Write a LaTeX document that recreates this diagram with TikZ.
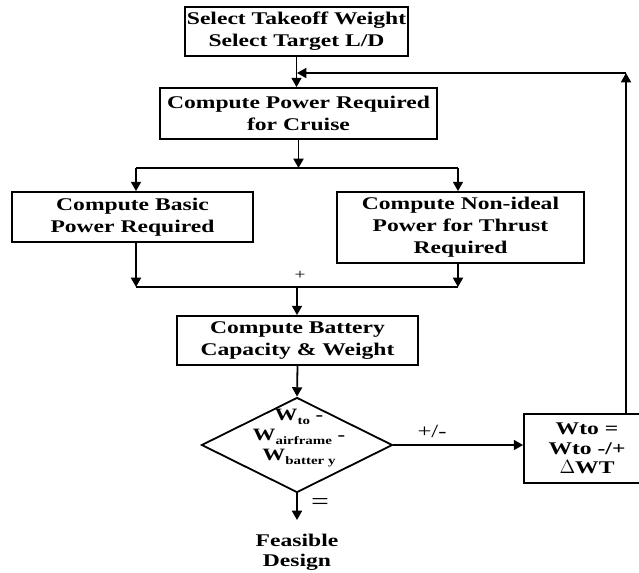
\documentclass[tikz,border=0pt]{standalone}
\usepackage{fontspec}
\setmainfont{Liberation Serif}[FakeStretch=1.32]
\usetikzlibrary{arrows.meta,shapes.geometric}
% lowered subscript used inside the decision diamond
\newcommand\lowsub[1]{\raisebox{-0.6ex}{\fontsize{8.5}{8.5}\selectfont #1}}

\begin{document}
\begin{tikzpicture}[x=0.75pt,y=-0.75pt,
  every node/.style={font=\fontsize{13.4}{16.5}\selectfont\bfseries, align=center, inner sep=0pt},
  box/.style={draw, line width=1.35pt},
  flow/.style={line width=1.35pt, -{Triangle[length=7pt,width=7.5pt]}},
  plain/.style={line width=1.35pt},
  sign/.style={font=\fontsize{#1}{#1}\selectfont}]
\clip (0,0) rectangle (639,572);

% process boxes
\node[box, minimum width=167.25pt, minimum height=36.75pt] (top) at (296.5,31.5)
  {Select Takeoff Weight\\Select Target L/D};
\node[box, minimum width=207.75pt, minimum height=38.25pt] (cruise) at (298.5,113.5)
  {Compute Power Required\\for Cruise};
\node[box, minimum width=180.75pt, minimum height=37.5pt] (basic) at (132.5,217)
  {Compute Basic\\Power Required};
\node[box, minimum width=185.25pt, minimum height=53.25pt] (nonideal) at (460.5,227.5)
  {Compute Non-ideal\\Power for Thrust\\Required};
\node[box, minimum width=180.75pt, minimum height=36.75pt] (battery) at (297.5,340.5)
  {Compute Battery\\Capacity \& Weight};

% decision diamond and its text
\node[draw, diamond, line width=1.35pt, aspect=2, minimum width=143.25pt, minimum height=71.25pt] (dec) at (297,445) {};
\node[font=\fontsize{13}{15}\selectfont\bfseries] (dectext) at (299,438)
  {W\lowsub{to} -\\W\lowsub{airframe} -\\W\lowsub{batter y}};

% weight update box
\node[box, minimum width=94.5pt, minimum height=51.75pt, font=\fontsize{13.4}{14.6}\selectfont\bfseries] (wto) at (587,448.5)
  {Wto =\\Wto -/+\\$\Delta$WT};

% result
\node (feasible) at (297,552) {Feasible\\[-1.5pt]Design};

% junction points
\coordinate (fbc) at (626,73);
\coordinate (fbj) at (297,73);
\coordinate (sp) at (298,168);
\coordinate (spl) at (136,168);
\coordinate (spr) at (458,168);
\coordinate (mgl) at (136,287);
\coordinate (mgr) at (458,287);
\coordinate (mg) at (297,287);
\coordinate (out) at (297,520);

% connectors
\draw[flow] (top.south) -- (top.south |- cruise.north);
\draw[flow] (wto.north -| fbc) -- (fbc);
\draw[flow] (fbc) -- (fbj);
\draw[flow] (cruise.south) -- (cruise.south |- sp);
\draw[plain] (spl) -- (spr);
\draw[flow] (spl) -- (spl |- basic.north);
\draw[flow] (spr) -- (spr |- nonideal.north);
\draw[flow] (basic.south -| mgl) -- (mgl);
\draw[flow] (nonideal.south -| mgr) -- (mgr);
\draw[plain] (mgl) -- (mgr);
\draw[flow] (mg) -- (mg |- battery.north);
\draw[flow] (battery.south) -- (dec.north);
\draw[flow] (dec.east) -- (dec.east -| wto.west);
\draw[flow] (dec.south) -- (out);

% signs
\node[sign=11] (plus) at (300,275) {+};
\node[sign=14] (pm) at (432,431) {+/-};
\node[sign=18] (eq) at (320,504) {=};
\end{tikzpicture}
\end{document}
